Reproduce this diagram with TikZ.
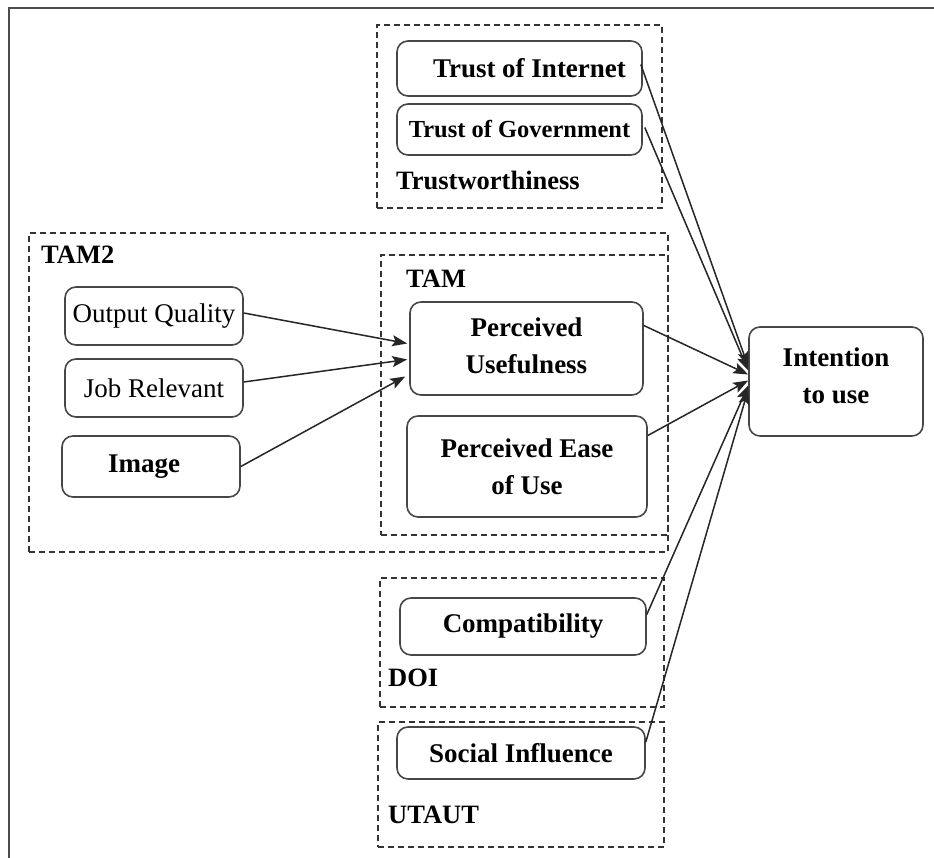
\documentclass[tikz,border=0pt]{standalone}
\usepackage{fontspec}
\setmainfont{Liberation Serif}
\usetikzlibrary{arrows.meta,calc}
\begin{document}
\begin{tikzpicture}[x=1pt,y=-1pt,
 box/.style={draw=black!72,line width=1.6pt,rounded corners=11pt,align=center,inner sep=0pt,font=\fontsize{27}{37}\selectfont\bfseries},
 rbox/.style={box,font=\fontsize{27}{37}\selectfont},
 grp/.style={draw=black!80,line width=1.3pt,dash pattern=on 6pt off 4pt,inner sep=0pt},
 lbl/.style={anchor=west,inner sep=0pt,font=\fontsize{26.5}{30}\selectfont\bfseries},
 arr/.style={draw=black!85,line width=1.5pt,-{Stealth[length=15pt,width=11pt,inset=3pt]}}]
\useasboundingbox (0,0) rectangle (934,858);
\fill[white] (0,0) rectangle (934,858);
% outer frame (left and top)
\draw[black!70,line width=2.5pt] (9,858) -- (9,8) -- (934,8);

% groups
\node[grp,minimum width=285,minimum height=183] (gTrust) at (519.5,116.5) {};
\node[grp,minimum width=639,minimum height=319] (gTAM2) at (348.5,392.5) {};
\node[grp,minimum width=287,minimum height=280] (gTAM) at (524.5,395) {};
\node[grp,minimum width=284,minimum height=129] (gDOI) at (522,642.5) {};
\node[grp,minimum width=286,minimum height=125] (gUT) at (521,784.5) {};

% group labels
\node[lbl] (lTrust) at (396,180) {Trustworthiness};
\node[lbl] (lTAM2) at (41,255) {TAM2};
\node[lbl] (lTAM) at (406,279) {TAM};
\node[lbl] (lDOI) at (388,678) {DOI};
\node[lbl] (lUT) at (388,815) {UTAUT};

% boxes
\node[box,minimum width=245,minimum height=55] (TI) at (519.5,68.5) {\hspace*{20pt}Trust of Internet};
\node[box,minimum width=245,minimum height=51,font=\fontsize{24.5}{30}\selectfont\bfseries] (TG) at (519.5,129.5) {Trust of Government};
\node[box,minimum width=233,minimum height=93] (PU) at (526.5,348.5) {Perceived\\Usefulness\\[-31pt]};
\node[box,minimum width=240,minimum height=101] (PE) at (527,466.5) {Perceived Ease\\of Use};
\node[rbox,minimum width=178,minimum height=58] (OQ) at (154,316) {Output Quality};
\node[rbox,minimum width=178,minimum height=58] (JR) at (154,388) {Job Relevant};
\node[box,minimum width=178,minimum height=61] (IM) at (151,466.5) {\hspace*{-14pt}Image};
\node[box,minimum width=174,minimum height=109] (IU) at (836,381.5) {Intention\\to use\\[-25pt]};
\node[box,minimum width=246,minimum height=57] (CO) at (523,626.5) {Compatibility};
\node[box,minimum width=248,minimum height=52] (SI) at (521,753) {Social Influence};

% arrows into PU
\draw[arr] ($(OQ.east)+(0,-3)$) -- ($(PU.west)+(-2,-5)$);
\draw[arr] ($(JR.east)+(0,-6)$) -- ($(PU.west)+(-2,11)$);
\draw[arr] (IM.east) -- ($(PU.west)+(-4,28)$);

% arrows into IU
\draw[arr] ($(TI.east)+(-2,-4)$) -- ($(IU.west)+(0,-15)$);
\draw[arr] ($(TG.east)+(2,-2)$) -- ($(IU.west)+(0,-11)$);
\draw[arr] ($(PU.east)+(0,-23)$) -- ($(IU.west)+(0,-7)$);
\draw[arr] ($(PE.east)+(0,-31)$) -- ($(IU.west)+(0,-1)$);
\draw[arr] ($(CO.east)+(0,-12)$) -- ($(IU.west)+(0,4)$);
\draw[arr] ($(SI.east)+(0,-11)$) -- ($(IU.west)+(0,8)$);
\end{tikzpicture}
\end{document}
